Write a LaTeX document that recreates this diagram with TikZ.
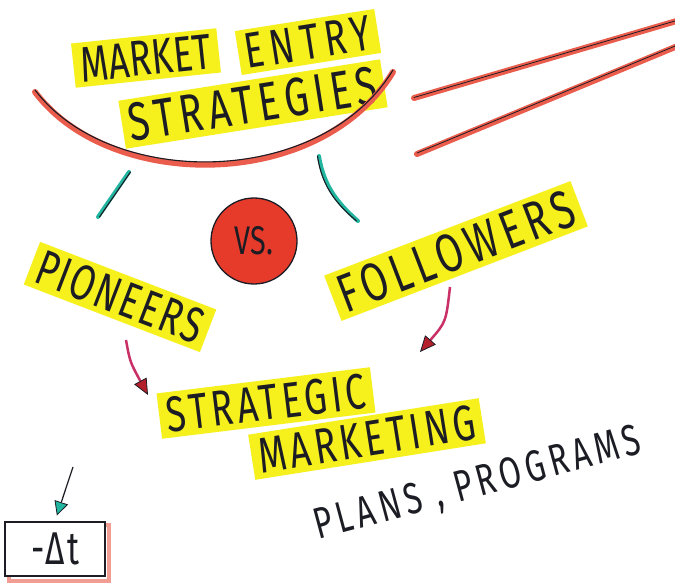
\documentclass[tikz,border=0pt]{standalone}
\usepackage{fontspec}
\setmainfont{Fira Sans}
\newfontfamily\hand[FakeStretch=0.72]{Fira Sans}
\newcommand\hf[2]{\hand\fontsize{#1}{#1}\selectfont\addfontfeature{LetterSpace=#2}}
\usetikzlibrary{arrows.meta}
\definecolor{hl}{HTML}{F6F01C}
\definecolor{redline}{HTML}{EA5D4C}
\definecolor{tealc}{HTML}{22B6A0}
\definecolor{vsred}{HTML}{E63B2B}
\definecolor{arrmag}{HTML}{C93067}
\definecolor{headred}{HTML}{B3202C}
\definecolor{inkc}{HTML}{1C1C24}
\tikzset{
  hlbox/.style={fill=hl, inner xsep=7pt, inner ysep=5pt, text=inkc},
  plain/.style={text=inkc},
  redstroke/.style={draw=redline, line width=6pt, line cap=round},
  inkstroke/.style={draw=inkc, line width=1.1pt, line cap=round},
  tealstroke/.style={draw=tealc, line width=4pt, line cap=round},
  flowarrow/.style={draw=arrmag, line width=2.5pt, -{Triangle[length=16pt,width=14pt,fill=headred,color=inkc,line width=0.8pt]}},
  smallarrow/.style={draw=inkc, line width=1.2pt, -{Triangle[length=14pt,width=14pt,fill=tealc,color=inkc,line width=0.8pt]}}
}
\begin{document}
\begin{tikzpicture}[x=1pt,y=-1pt]
\useasboundingbox[fill=white] (0,0) rectangle (675,588);

% title
\node[hlbox, rotate=6, font=\hf{50}{1}] (market) at (146,58) {MARKET};
\node[hlbox, rotate=9, font=\hf{50}{12}] (entry) at (308,42) {ENTRY};
\node[hlbox, rotate=9, font=\hf{54}{10}] (strat) at (253,104) {STRATEGIES};

% arc under title
\coordinate (arcL) at (35,92);
\coordinate (arcR) at (393,72);
\draw[redstroke] (arcL) .. controls (110,192) and (320,192) .. (arcR);
\draw[inkstroke] ([yshift=2pt]arcL) .. controls (110,189) and (320,189) .. ([yshift=2pt]arcR);

% parallel lines on the right
\coordinate (p1a) at (414,98);
\coordinate (p1b) at (680,20);
\coordinate (p2a) at (417,154);
\coordinate (p2b) at (680,45);
\draw[redstroke] (p1a) -- (p1b);
\draw[inkstroke, line width=0.8pt] ([yshift=0.5pt]p1a) -- ([yshift=0.5pt]p1b);
\draw[redstroke] (p2a) -- (p2b);
\draw[inkstroke, line width=0.8pt] ([yshift=1pt]p2a) -- ([yshift=1pt]p2b);

% teal branches
\coordinate (t1a) at (129,172);
\coordinate (t1b) at (98,217);
\coordinate (t2a) at (319,156);
\coordinate (t2b) at (358,221);
\draw[tealstroke] (t1a) -- (t1b);
\draw[inkstroke] ([xshift=1.5pt]t1a) -- ([xshift=1.5pt]t1b);
\draw[tealstroke] (t2a) .. controls (324,188) and (340,205) .. (t2b);
\draw[inkstroke] ([xshift=-1.5pt]t2a) .. controls (322,188) and (338,205) .. ([xshift=-1.5pt]t2b);

% VS circle
\node[circle, fill=vsred, draw=inkc, line width=1.3pt, minimum size=86pt, text=inkc,
      font=\hf{40}{2}] (vs) at (254,241) {VS.};

% pioneers / followers
\node[hlbox, rotate=-21, font=\hf{50}{4}] (pion) at (120,297) {PIONEERS};
\node[hlbox, rotate=21, font=\hf{54}{10}] (foll) at (456,251) {FOLLOWERS};

% strategic marketing
\node[hlbox, rotate=7, font=\hf{50}{8}] (sm1) at (266,403) {STRATEGIC};
\node[hlbox, rotate=9, font=\hf{50}{8}] (sm2) at (367,439) {MARKETING};

% plans, programs
\node[plain, rotate=15, font=\hf{44}{11}] (plans) at (478,485) {PLANS , PROGRAMS};

% arrows
\coordinate (a1s) at (126,340);
\coordinate (a1e) at (148,395);
\coordinate (a2s) at (450,287);
\coordinate (a2e) at (420,352);
\draw[flowarrow] (a1s) .. controls (130,362) .. (a1e);
\draw[flowarrow] (a2s) .. controls (446,322) .. (a2e);

% delta t box
\node[draw=redline, line width=4pt, minimum width=100pt, minimum height=56pt, opacity=0.6] (shadow) at (59,553) {};
\node[draw=inkc, fill=white, line width=1.5pt, minimum width=100pt, minimum height=54pt, text=inkc,
      font=\hf{46}{4}] (dt) at (55,549) {-Δt};
\coordinate (sas) at (73,467);
\draw[smallarrow, shorten >=6pt] (sas) -- (dt.north);
\end{tikzpicture}
\end{document}
